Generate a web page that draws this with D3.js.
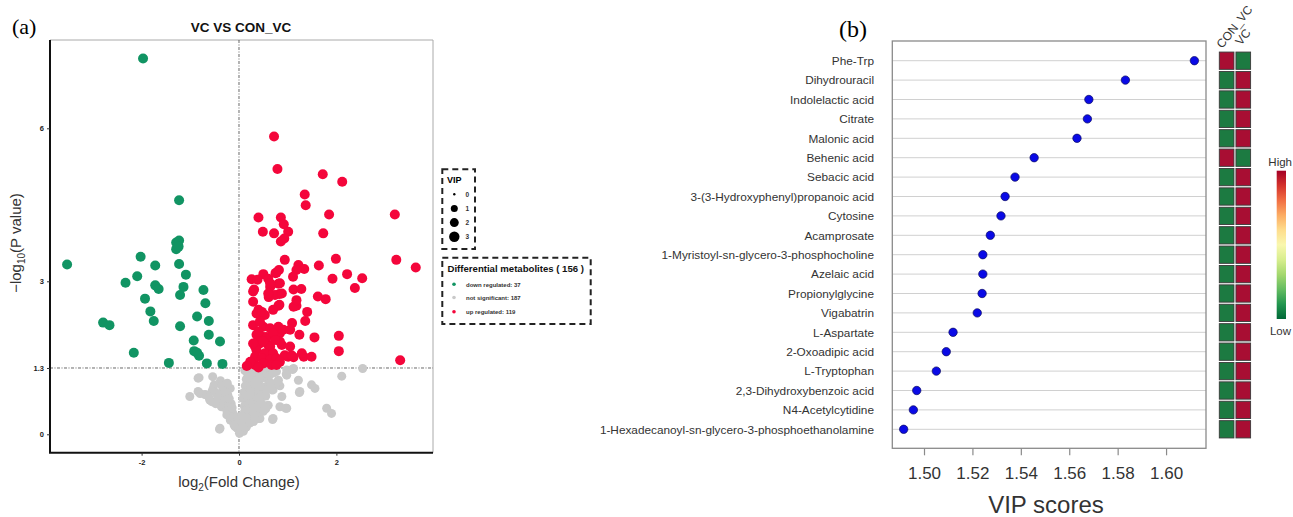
<!DOCTYPE html>
<html><head><meta charset="utf-8">
<script src="https://cdn.jsdelivr.net/npm/d3@7"></script>
<style>body{margin:0;background:#fff}svg{display:block}</style>
</head><body>
<svg id="c" width="1293" height="517"></svg>
<script>
// ---------------- Panel (a) data: [log2FC, -log10 P] ----------------
const downRegulated = [
[-1.97,7.37],[-1.23,4.59],[-1.29,3.76],[-1.23,3.80],[-1.29,3.63],[-3.53,3.33],[-2.02,3.48],
[-1.72,3.31],[-1.23,3.34],[-1.09,3.13],[-2.09,3.10],[-2.33,2.97],[-1.72,2.92],[-1.65,2.85],
[-1.14,2.89],[-1.21,2.73],[-0.73,2.83],[-1.93,2.66],[-0.69,2.57],[-1.82,2.41],[-1.75,2.22],
[-0.86,2.31],[-0.62,2.22],[-2.79,2.19],[-2.66,2.14],[-1.21,2.12],[-0.62,1.95],[-0.93,1.84],
[-0.39,1.82],[-2.16,1.60],[-0.92,1.63],[-0.82,1.54],[-1.44,1.40],[-0.66,1.39],[-0.34,1.38],
[-1.24,3.68],[-0.86,1.60]
];
const upRegulated = [
[0.72,5.84],[0.79,5.20],[1.72,5.10],[2.12,4.95],[1.35,4.70],[1.37,4.49],[0.40,4.25],[0.86,4.25],
[0.92,4.12],[1.85,4.31],[3.20,4.31],[0.49,3.97],[0.72,3.94],[1.01,3.97],[0.93,3.84],[1.73,3.94],
[0.86,3.78],[0.94,3.42],[1.99,3.44],[3.23,3.42],[3.63,3.27],[1.64,3.31],[1.22,3.32],[1.34,3.24],
[1.18,3.22],[0.82,3.22],[0.75,3.16],[0.50,3.14],[0.26,3.04],[0.38,3.03],[0.60,3.05],[1.11,3.09],
[1.92,3.05],[2.22,3.14],[2.53,3.06],[2.38,2.87],[0.31,2.84],[0.64,2.89],[0.81,2.95],[1.12,2.84],
[1.28,2.85],[0.83,2.75],[0.74,2.73],[0.61,2.69],[1.62,2.70],[1.78,2.65],[0.29,2.60],[0.81,2.52],
[0.83,2.54],[1.18,2.52],[0.40,2.44],[0.43,2.37],[0.36,2.37],[0.45,2.33],[1.40,2.40],[1.36,2.22],
[1.09,2.18],[0.29,2.14],[0.50,2.11],[0.64,2.08],[0.81,2.11],[1.24,1.95],[1.55,1.90],[2.05,1.93],
[0.84,1.98],[0.36,1.95],[0.50,1.91],[0.88,1.75],[0.60,1.75],[0.43,1.82],[0.33,1.72],[1.01,1.52],
[1.12,1.51],[1.33,1.52],[1.49,1.52],[2.05,1.63],[3.31,1.45],[0.23,1.39],[0.33,1.36],[0.29,2.80],
[0.60,2.76],[0.47,2.40],[0.53,2.34],[1.12,2.50],[0.57,1.91],[0.70,1.98],[0.84,1.82],[0.43,1.78],
[0.64,1.72],[0.74,1.85],[0.36,1.65],[0.53,1.59],[0.70,1.59],[0.33,1.52],[0.47,1.49],[0.64,1.46],
[0.77,1.49],[0.94,1.55],[1.08,1.55],[0.23,1.42],[0.50,1.39],[0.67,1.36],[0.84,1.42],[0.40,1.31],
[0.16,1.34],[0.77,1.36],[1.29,1.59],[1.05,1.72],[0.29,1.78],[0.50,1.82],[0.40,2.01],[0.43,2.21],
[0.91,2.05],[1.05,2.05],[0.70,2.44],[1.18,2.63],[0.88,2.76],[0.77,3.17],[0.84,2.96],[0.64,2.96]
];
const notSignificant = [
[-0.84,1.10],[-0.54,1.13],[-0.38,1.05],[-1.01,0.74],[-0.84,0.84],[-0.70,0.78],[-0.53,0.90],
[-0.33,0.87],[-0.18,0.90],[-0.60,0.67],[-0.43,0.67],[-0.36,0.54],[-0.25,0.38],[-0.18,0.28],
[-0.08,0.15],[-0.39,0.12],[0.02,0.05],[-0.22,0.48],[-0.82,1.11],[-0.80,0.80],[-0.66,0.77],
[-0.56,0.64],[-0.40,0.10],[-0.29,0.57],[-0.14,0.44],[-0.10,0.32],[-0.33,0.71],[-0.47,0.81],
[-0.23,0.77],[-0.04,0.22],[-0.16,0.60],[-0.51,0.97],[-0.05,0.30],[-0.12,0.40],[-0.20,0.52],
[-0.26,0.62],[-0.31,0.70],[-0.12,0.24],[-0.08,0.35],[-0.18,0.36],[-0.25,0.46],[-0.38,0.58],
[-0.44,0.75],[-0.27,0.82],[-0.20,0.70],[-0.14,0.52],[-0.04,0.12],[-0.10,0.18],[-0.55,0.85],
[-0.62,0.73],[-0.48,0.60],[-0.35,0.95],[-0.24,1.00],
[0.23,1.23],[0.33,1.13],[0.23,1.00],[0.19,0.87],[0.26,0.74],[0.16,0.61],[0.12,0.44],[0.09,0.31],
[0.06,0.18],[0.36,0.80],[0.43,0.67],[0.33,0.48],[0.26,0.35],[0.40,0.31],[0.57,1.26],[0.77,1.23],
[0.98,1.26],[1.12,1.29],[0.60,1.06],[0.81,1.06],[0.98,1.16],[0.67,0.87],[0.84,0.95],[1.22,1.06],
[1.49,0.97],[1.56,0.90],[1.25,0.84],[0.88,0.74],[0.60,0.57],[0.84,0.54],[0.98,0.51],[0.43,0.31],
[0.70,0.31],[1.80,0.51],[1.90,0.41],[2.11,1.14],[2.54,1.29],[1.24,0.82],[0.96,0.51],[0.69,0.29],
[0.70,0.87],[1.10,1.27],[0.97,1.18],[0.77,1.01],
[0.12,1.25],[0.18,1.18],[0.28,1.20],[0.38,1.24],[0.45,1.18],[0.15,1.08],[0.27,1.05],[0.40,1.02],
[0.48,1.10],[0.13,0.95],[0.30,0.93],[0.38,0.88],[0.52,0.92],[0.10,0.82],[0.22,0.80],[0.31,0.68],
[0.46,0.78],[0.55,0.75],[0.08,0.70],[0.20,0.66],[0.27,0.58],[0.38,0.55],[0.47,0.60],[0.11,0.55],
[0.19,0.50],[0.24,0.42],[0.36,0.40],[0.14,0.36],[0.19,0.28],[0.30,0.25],[0.06,0.25],[0.11,0.20],
[0.15,0.14],[0.04,0.10],[0.09,0.06],[0.01,0.02],[0.22,0.22],[0.50,0.45],[0.58,0.88],[0.65,1.00],
[0.62,1.15],[0.70,1.20],[0.50,1.28],[0.35,1.30],[0.42,0.70],[0.55,0.50],[0.16,0.76],[0.24,0.88],
[0.33,0.98],[0.20,1.12],[0.42,1.12],[0.28,0.46],[0.12,0.46],[0.05,0.36],[0.32,0.33],[0.08,0.15]
];
const volcYTicks = [0, 1.3, 3, 6];
const volcXTicks = [-2, 0, 2];
const vipLegendValues = [0, 1, 2, 3];
const legendItems = ["down regulated: 37", "not significant: 187", "up regulated: 119"];

// ---------------- Panel (b) data ----------------
const metabolites = ["Phe-Trp","Dihydrouracil","Indolelactic acid","Citrate","Malonic acid","Behenic acid",
"Sebacic acid","3-(3-Hydroxyphenyl)propanoic acid","Cytosine","Acamprosate",
"1-Myristoyl-sn-glycero-3-phosphocholine","Azelaic acid","Propionylglycine","Vigabatrin",
"L-Aspartate","2-Oxoadipic acid","L-Tryptophan","2,3-Dihydroxybenzoic acid","N4-Acetylcytidine",
"1-Hexadecanoyl-sn-glycero-3-phosphoethanolamine"];
const vipScores = [1.6117,1.5832,1.5681,1.5675,1.5632,1.5455,1.5376,1.5335,1.5318,1.5274,
1.5243,1.5243,1.5240,1.5220,1.5120,1.5092,1.5051,1.4970,1.4956,1.4916];
const heatGroups = ["CON_VC","VC"];
const heatCON = [1,0,0,0,0,1,0,0,0,0,0,0,0,0,0,0,0,0,0,0];
const heatVC  = [0,1,1,1,1,0,1,1,1,1,1,1,1,1,1,1,1,1,1,1];
const vipTicks = [1.50,1.52,1.54,1.56,1.58,1.60];

const svg = d3.select("#c");
const SANS = "'Liberation Sans', Arial, sans-serif";
const SERIF = "'Liberation Serif', 'Times New Roman', serif";

// ======== Panel (a) ========
const ax = d3.scaleLinear().domain([-3.881, 3.984]).range([50, 433]);
const ay = d3.scaleLinear().domain([-0.361, 7.731]).range([452.7, 40]);
const gA = svg.append("g");

gA.append("text").attr("x",12).attr("y",34).attr("font-family",SERIF).attr("font-size",22).text("(a)");
gA.append("text").attr("x",241).attr("y",32).attr("text-anchor","middle").attr("font-family",SANS)
  .attr("font-weight","bold").attr("font-size",13.5).attr("fill","#111").text("VC VS CON_VC");

// frame
gA.append("line").attr("x1",50).attr("x2",433).attr("y1",40).attr("y2",40).attr("stroke","#aaa").attr("stroke-width",1);
gA.append("line").attr("x1",433).attr("x2",433).attr("y1",40).attr("y2",452.7).attr("stroke","#aaa").attr("stroke-width",1);

// reference lines
gA.append("line").attr("x1",ax(0)).attr("x2",ax(0)).attr("y1",40).attr("y2",452.7)
  .attr("stroke","#444").attr("stroke-width",0.8).attr("stroke-dasharray","3,1.5,1,1.5");
gA.append("line").attr("x1",50).attr("x2",433).attr("y1",ay(1.3)).attr("y2",ay(1.3))
  .attr("stroke","#444").attr("stroke-width",0.8).attr("stroke-dasharray","3,1.5,1,1.5");

// points
const ptsG = gA.append("g");
ptsG.selectAll("circle.ns").data(notSignificant).join("circle").attr("class","ns")
  .attr("cx",d=>ax(d[0])).attr("cy",d=>ay(d[1])).attr("r",4.5).attr("fill","#c9c9c9");
ptsG.selectAll("circle.dn").data(downRegulated).join("circle").attr("class","dn")
  .attr("cx",d=>ax(d[0])).attr("cy",d=>ay(d[1])).attr("r",5).attr("fill","#119463");
ptsG.selectAll("circle.up").data(upRegulated).join("circle").attr("class","up")
  .attr("cx",d=>ax(d[0])).attr("cy",d=>ay(d[1])).attr("r",5).attr("fill","#f4063b");

// axes
const yAx = gA.append("g").attr("transform","translate(50,0)")
  .call(d3.axisLeft(ay).tickValues(volcYTicks).tickFormat(d=>String(d)).tickSize(3).tickPadding(3));
const xAx = gA.append("g").attr("transform","translate(0,452.7)")
  .call(d3.axisBottom(ax).tickValues(volcXTicks).tickFormat(d=>String(d)).tickSize(3).tickPadding(4));
[yAx,xAx].forEach(g=>{
  g.select(".domain").attr("stroke","#111").attr("stroke-width",2);
  g.selectAll(".tick line").attr("stroke","#333");
  g.selectAll(".tick text").attr("font-family",SANS).attr("font-weight","bold").attr("font-size",7.5).attr("fill","#222");
});
yAx.select(".domain").attr("d","M0,40V452.7");
xAx.select(".domain").attr("d","M49,0H433");

// axis titles
const yl = gA.append("text").attr("transform","translate(21,243) rotate(-90)").attr("text-anchor","middle")
  .attr("font-family",SANS).attr("font-size",15).attr("fill","#333");
yl.append("tspan").text("\u2212log");
yl.append("tspan").attr("font-size",10).attr("dy",4).text("10");
yl.append("tspan").attr("dy",-4).text("(P value)");
const xl = gA.append("text").attr("x",239).attr("y",487).attr("text-anchor","middle")
  .attr("font-family",SANS).attr("font-size",15).attr("fill","#333");
xl.append("tspan").text("log");
xl.append("tspan").attr("font-size",10).attr("dy",4).text("2");
xl.append("tspan").attr("dy",-4).text("(Fold Change)");

// VIP legend
const dash = {"stroke":"#222","stroke-width":2,"stroke-dasharray":"6,4","fill":"none"};
const vipBox = gA.append("rect").attr("x",442.3).attr("y",169.3).attr("width",32.7).attr("height",79.7);
Object.entries(dash).forEach(([k,v])=>vipBox.attr(k,v));
gA.append("text").attr("x",447).attr("y",183).attr("font-family",SANS).attr("font-weight","bold")
  .attr("font-size",9).text("VIP");
const vipR = d3.scaleSqrt().domain([0,3]).range([1.2,5.2]);
const vipY = d3.scalePoint().domain(vipLegendValues).range([194.3,236.7]);
gA.selectAll("circle.vipleg").data(vipLegendValues).join("circle").attr("class","vipleg")
  .attr("cx",454.3).attr("cy",d=>vipY(d)).attr("r",d=>d===0?1.2:vipR(d)).attr("fill","#000");
gA.selectAll("text.vipleg").data(vipLegendValues).join("text").attr("class","vipleg")
  .attr("x",465.5).attr("y",d=>vipY(d)+2.5).attr("font-family",SANS).attr("font-size",6.5)
  .attr("font-weight","bold").attr("fill","#333").text(d=>d);

// Differential legend
const dBox = gA.append("rect").attr("x",442.3).attr("y",257.7).attr("width",148.4).attr("height",66.3);
Object.entries(dash).forEach(([k,v])=>dBox.attr(k,v));
gA.append("text").attr("x",447.5).attr("y",271.5).attr("font-family",SANS).attr("font-weight","bold")
  .attr("font-size",9.6).attr("fill","#111").text("Differential metabolites ( 156 )");
const legColors = ["#119463","#c9c9c9","#f4063b"];
const legY = [284.3,297.5,311.7];
gA.selectAll("circle.dleg").data(legendItems).join("circle").attr("class","dleg")
  .attr("cx",454).attr("cy",(d,i)=>legY[i]).attr("r",1.8).attr("fill",(d,i)=>legColors[i]);
gA.selectAll("text.dleg").data(legendItems).join("text").attr("class","dleg")
  .attr("x",466).attr("y",(d,i)=>legY[i]+2.2).attr("font-family",SANS).attr("font-size",6)
  .attr("font-weight","bold").attr("fill","#333").text(d=>d);

// ======== Panel (b) ========
const gB = svg.append("g");
gB.append("text").attr("x",839).attr("y",37).attr("font-family",SERIF).attr("font-size",24).text("(b)");

const bx = d3.scaleLinear().domain([1.4869, 1.6165]).range([892.3, 1206]);
const by = d3.scalePoint().domain(metabolites).range([60.7, 429.3]);
const bTop = 41, bBot = 448.3;

gB.selectAll("line.grid").data(metabolites).join("line").attr("class","grid")
  .attr("x1",892.3).attr("x2",1206).attr("y1",d=>by(d)).attr("y2",d=>by(d))
  .attr("stroke","#d0d0d0").attr("stroke-width",1);
gB.append("rect").attr("x",892.3).attr("y",bTop).attr("width",1206-892.3).attr("height",bBot-bTop)
  .attr("fill","none").attr("stroke","#8a8a8a").attr("stroke-width",1.3);

gB.selectAll("text.lab").data(metabolites).join("text").attr("class","lab")
  .attr("x",874).attr("y",d=>by(d)+4.3).attr("text-anchor","end").attr("font-family",SANS)
  .attr("font-size",11.8).attr("fill","#333").text(d=>d);

gB.selectAll("circle.vip").data(metabolites).join("circle").attr("class","vip")
  .attr("cx",(d,i)=>bx(vipScores[i])).attr("cy",d=>by(d)).attr("r",4.2)
  .attr("fill","#0a0ae6").attr("stroke","#0a0a60").attr("stroke-width",0.7);

const bAx = gB.append("g").attr("transform",`translate(0,${bBot})`)
  .call(d3.axisBottom(bx).tickValues(vipTicks).tickFormat(d3.format(".2f")).tickSize(7).tickPadding(12));
bAx.select(".domain").remove();
bAx.selectAll(".tick line").attr("stroke","#8a8a8a").attr("stroke-width",1.2);
bAx.selectAll(".tick text").attr("font-family",SANS).attr("font-size",17).attr("fill","#333");
gB.append("text").attr("x",1046).attr("y",513).attr("text-anchor","middle").attr("font-family",SANS)
  .attr("font-size",24).attr("fill","#333").text("VIP scores");

// heatmap
const hx = d3.scaleBand().domain(heatGroups).range([1219.3,1250.6]).paddingInner(0.12);
const cellH = 17.3;
const heatRows = metabolites.map((m,i)=>({m, vals:[heatCON[i],heatVC[i]]}));
const cellColor = v => v ? "#a80e33" : "#1c7a41";
heatRows.forEach(r=>{
  gB.selectAll(null).data(heatGroups).join("rect")
    .attr("x",g=>hx(g)).attr("y",by(r.m)-cellH/2).attr("width",hx.bandwidth()).attr("height",cellH)
    .attr("fill",(g,j)=>cellColor(r.vals[j])).attr("stroke","#3a3a3a").attr("stroke-width",0.9);
});
gB.selectAll("text.hg").data(heatGroups).join("text").attr("class","hg")
  .attr("transform",(g,j)=>`translate(${hx(g)+(j?5:3)},${j?46:49}) rotate(-52)`)
  .attr("font-family",SANS).attr("font-size",12).attr("fill","#333").text(g=>g);

// colour bar
const defs = svg.append("defs");
const grad = defs.append("linearGradient").attr("id","cb").attr("x1",0).attr("x2",0).attr("y1",0).attr("y2",1);
d3.range(0,1.0001,0.1).forEach(t=>grad.append("stop").attr("offset",t).attr("stop-color",d3.interpolateRdYlGn(t)));
gB.append("rect").attr("x",1276.7).attr("y",170.7).attr("width",9.3).attr("height",148.3).attr("fill","url(#cb)");
gB.append("text").attr("x",1292).attr("y",166).attr("text-anchor","end").attr("font-family",SANS)
  .attr("font-size",11.5).attr("fill","#333").text("High");
gB.append("text").attr("x",1291).attr("y",335).attr("text-anchor","end").attr("font-family",SANS)
  .attr("font-size",11.5).attr("fill","#333").text("Low");
</script>
</body></html>
